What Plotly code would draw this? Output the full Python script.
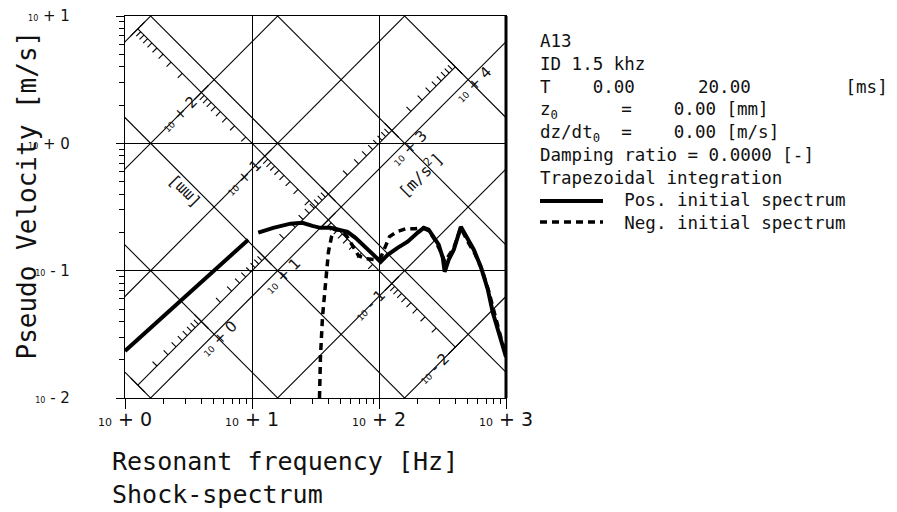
import numpy as np
import plotly.graph_objects as go

TWO_PI = 2 * np.pi

# Shock spectrum A13 (f in Hz, pseudo velocity in m/s)
pos_freq_a = [1.00, 3.03, 9.35]
pos_vel_a = [0.0234, 0.0635, 0.175]
pos_freq_b = [11.2, 14.7, 20.1, 24.9, 29.9, 34.6, 41.5, 49.8, 56.5, 65.3, 78.4, 90.6,
              103, 117, 140, 168, 202, 225, 246, 270, 295, 318, 329, 354, 388, 441,
              500, 558, 634, 720, 788, 912, 1000]
pos_vel_b = [0.199, 0.217, 0.234, 0.238, 0.225, 0.217, 0.217, 0.210, 0.202, 0.181, 0.154, 0.133,
             0.117, 0.133, 0.151, 0.169, 0.199, 0.217, 0.210, 0.185, 0.160, 0.126, 0.098, 0.122,
             0.146, 0.221, 0.175, 0.146, 0.107, 0.0708, 0.0467, 0.0286, 0.0210]
neg_freq = [34.0, 34.6, 35.9, 37.9, 40.0, 42.3, 45.4, 49.8, 55.5, 61.9, 69.0, 79.8, 94.0,
            103, 111, 121, 138, 162, 191, 221, 246, 275, 306, 330, 354, 388, 441, 500,
            569, 646, 733, 817, 912, 1000]
neg_vel = [0.0100, 0.0210, 0.0434, 0.0848, 0.141, 0.185, 0.213, 0.206, 0.188, 0.157, 0.131,
           0.124, 0.122, 0.126, 0.151, 0.185, 0.202, 0.213, 0.213, 0.217, 0.206, 0.175, 0.141,
           0.117, 0.131, 0.151, 0.217, 0.169, 0.136, 0.102, 0.0682, 0.0442, 0.0297, 0.0218]

# tripartite grid: constant displacement [m] and constant acceleration [m/s^2]
grid_disp_m = [1e-5, 1e-4, 1e-3, 1e-2, 1e-1, 1.0]
grid_acc = [1e-1, 1e0, 1e1, 1e2, 1e3, 1e4]

# scales drawn inside the plot
disp_scale_mm = [1e3, 1e-2]     # displacement scale lies on V*f = 10
disp_scale_vf = 10.0
acc_scale = [1e-1, 1e4]         # acceleration scale lies on V/f = 0.01
acc_scale_vf = 0.01
disp_label_exp = [2, 1, -1, -2]
acc_label_exp = [0, 1, 3, 4]

x_tick_vals = [1, 10, 100, 1000]
x_tick_exp = [0, 1, 2, 3]
y_tick_vals = [0.01, 0.1, 1, 10]
y_tick_exp = [-2, -1, 0, 1]

info_lines = [
    "A13",
    "ID 1.5 khz",
    "T    0.00      20.00         [ms]",
    "z<sub>0</sub>      =    0.00 [mm]",
    "dz/dt<sub>0</sub>  =    0.00 [m/s]",
    "Damping ratio = 0.0000 [-]",
    "Trapezoidal integration",
    "        Pos. initial spectrum",
    "        Neg. initial spectrum",
]

SANS = "DejaVu Sans"
MONO = "DejaVu Sans Mono"
INK = "#111111"

# the page body adds an 8px margin, so the figure is drawn 8px smaller
OFF = 8
W, H = 897 - OFF, 512 - OFF
L, R, T, B = 125 - OFF, 391, 16 - OFF, 114
PW, PH = W - L - R, H - T - B


def px(x):
    return (x - OFF - L) / PW


def py(y):
    return (H - B - (y - OFF)) / PH


def pow_text(e, small=11):
    sign = "+" if e >= 0 else "-"
    return f"<span style='font-size:{small}px'>10</span> {sign} {abs(e)}"


def minor_vals(lo, hi):
    return [m * 10.0 ** k for k in range(lo, hi) for m in range(2, 10)]


fig = go.Figure()

# diagonal grid
f_span = np.array([0.3, 3000.0])
for d in grid_disp_m:
    fig.add_trace(go.Scatter(x=f_span, y=TWO_PI * f_span * d, mode="lines",
                             line=dict(color="black", width=1.1), hoverinfo="skip", showlegend=False))
for a in grid_acc:
    fig.add_trace(go.Scatter(x=f_span, y=a / (TWO_PI * f_span), mode="lines",
                             line=dict(color="black", width=1.1), hoverinfo="skip", showlegend=False))


# crossing points on the two scales, in log10 units
def disp_cross(d_mm):
    lf = (np.log10(disp_scale_vf) - np.log10(TWO_PI * d_mm / 1000)) / 2
    return lf, np.log10(disp_scale_vf) - lf


def acc_cross(a):
    lf = (np.log10(a / TWO_PI) - np.log10(acc_scale_vf)) / 2
    return lf, lf + np.log10(acc_scale_vf)


def add_scale(cross, lo, hi, tdir):
    p0, p1 = cross(lo), cross(hi)
    xs, ys = [10 ** p0[0], 10 ** p1[0], None], [10 ** p0[1], 10 ** p1[1], None]
    klo, khi = int(round(np.log10(min(lo, hi)))), int(round(np.log10(max(lo, hi))))
    vals = [m * 10.0 ** k for k in range(klo, khi) for m in range(1, 10)] + [10.0 ** khi]
    for v in vals:
        lf, lv = cross(v)
        major = abs(np.log10(v) - round(np.log10(v))) < 1e-9
        t = 0.055 if major else 0.035
        back = t if major else 0.0
        xs += [10 ** (lf - back * tdir[0]), 10 ** (lf + t * tdir[0]), None]
        ys += [10 ** (lv - back * tdir[1]), 10 ** (lv + t * tdir[1]), None]
    fig.add_trace(go.Scatter(x=xs, y=ys, mode="lines", line=dict(color="black", width=1.1),
                             hoverinfo="skip", showlegend=False))


add_scale(disp_cross, disp_scale_mm[0], disp_scale_mm[1], (-1, -1))
add_scale(acc_cross, acc_scale[0], acc_scale[1], (-1, 1))

# spectra
fig.add_trace(go.Scatter(x=pos_freq_a + [None] + pos_freq_b, y=pos_vel_a + [None] + pos_vel_b,
                         mode="lines", name="Pos. initial spectrum",
                         line=dict(color="black", width=4), showlegend=False))
fig.add_trace(go.Scatter(x=neg_freq, y=neg_vel, mode="lines", name="Neg. initial spectrum",
                         line=dict(color="black", width=3.5, dash="7px,5px"), showlegend=False))

ann = []
for e in disp_label_exp:
    lf, lv = disp_cross(10.0 ** e)
    ann.append(dict(x=lf - 0.17, y=lv - 0.17, xref="x", yref="y", text=pow_text(e, 9),
                    textangle=-45, showarrow=False, font=dict(family=SANS, size=15, color=INK)))
for e in acc_label_exp:
    lf, lv = acc_cross(10.0 ** e)
    ann.append(dict(x=lf + 0.14, y=lv - 0.14, xref="x", yref="y", text=pow_text(e, 9),
                    textangle=-45, showarrow=False, font=dict(family=SANS, size=15, color=INK)))
ann.append(dict(x=0.466, y=-0.38, xref="x", yref="y", text="[mm]", textangle=-135,
                showarrow=False, font=dict(family=MONO, size=16, color=INK)))
ann.append(dict(x=2.33, y=-0.245, xref="x", yref="y", text="[m/s<sup>2</sup>]", textangle=-45,
                showarrow=False, font=dict(family=MONO, size=16, color=INK)))

# axis titles
ann.append(dict(x=px(26.5), y=py(195), xref="paper", yref="paper", xanchor="center",
                yanchor="middle", text="Pseudo Velocity [m/s]", textangle=-90, showarrow=False,
                font=dict(family=MONO, size=26, color=INK)))
ann.append(dict(x=px(110), y=py(445), xref="paper", yref="paper", xanchor="left",
                yanchor="top", align="left", showarrow=False,
                text="Resonant frequency [Hz]<br>Shock-spectrum",
                font=dict(family=MONO, size=25, color=INK)))

# info block on the right
ann.append(dict(x=px(538), y=py(29), xref="paper", yref="paper", xanchor="left", yanchor="top",
                align="left", showarrow=False,
                text="<br>".join(s.replace(" ", "\u00a0") for s in info_lines),
                font=dict(family=MONO, size=17.5, color=INK)))

shapes = [
    dict(type="line", xref="x domain", yref="y domain", x0=1, x1=1, y0=0, y1=1,
         line=dict(color="black", width=3)),
    dict(type="line", xref="paper", yref="paper", x0=px(540), x1=px(603), y0=py(201), y1=py(201),
         line=dict(color="black", width=4)),
    dict(type="line", xref="paper", yref="paper", x0=px(540), x1=px(603), y0=py(222), y1=py(222),
         line=dict(color="black", width=3.5, dash="7px,5px")),
]

fig.update_layout(
    width=W, height=H,
    margin=dict(l=L, r=R, t=T, b=B),
    paper_bgcolor="white", plot_bgcolor="white",
    showlegend=False,
    annotations=ann,
    shapes=shapes,
    xaxis=dict(type="log", range=[0, 3], tickmode="array", tickvals=x_tick_vals,
               ticktext=[pow_text(e) for e in x_tick_exp],
               ticks="outside", ticklen=10, tickwidth=1.2, tickcolor="black",
               minor=dict(tickmode="array", tickvals=minor_vals(0, 3), ticks="outside",
                          ticklen=5, tickwidth=1, tickcolor="black", showgrid=False),
               showgrid=True, gridcolor="black", gridwidth=1,
               showline=True, linecolor="black", linewidth=1.2, mirror=True, zeroline=False,
               automargin=False, ticklabelstandoff=-6, ticklabeloverflow="allow",
               tickfont=dict(family=SANS, size=19, color=INK)),
    yaxis=dict(type="log", range=[-2, 1], tickmode="array", tickvals=y_tick_vals,
               ticktext=[pow_text(e, 8) for e in y_tick_exp],
               ticks="outside", ticklen=8, tickwidth=1.2, tickcolor="black",
               minor=dict(tickmode="array", tickvals=minor_vals(-2, 1), ticks="outside",
                          ticklen=5, tickwidth=1, tickcolor="black", showgrid=False),
               showgrid=True, gridcolor="black", gridwidth=1,
               showline=True, linecolor="black", linewidth=1.2, mirror=True, zeroline=False,
               automargin=False, ticklabelstandoff=43, ticklabeloverflow="allow",
               tickfont=dict(family=SANS, size=15, color=INK)),
)

fig.write_html("out.html")
